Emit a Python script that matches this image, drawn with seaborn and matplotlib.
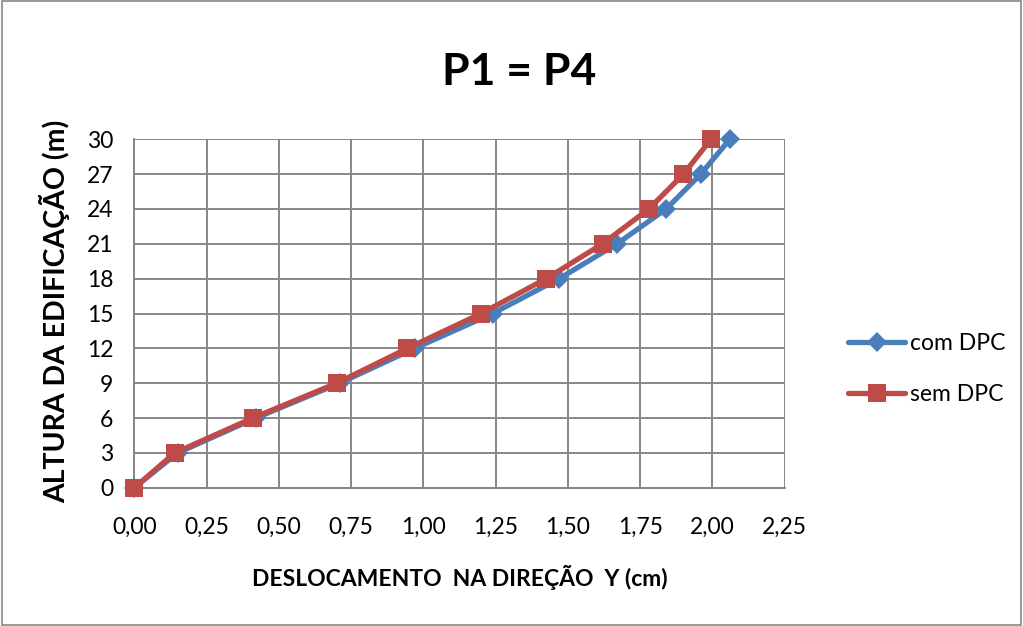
import matplotlib
matplotlib.use("Agg")
import matplotlib.pyplot as plt
from matplotlib.ticker import FuncFormatter
import seaborn as sns
import pandas as pd

# Storey heights (m) and lateral displacement in Y (cm)
altura = [0, 3, 6, 9, 12, 15, 18, 21, 24, 27, 30]
com_dpc = [0.00, 0.15, 0.42, 0.71, 0.97, 1.24, 1.47, 1.67, 1.84, 1.96, 2.06]
sem_dpc = [0.00, 0.14, 0.41, 0.70, 0.945, 1.20, 1.425, 1.62, 1.78, 1.90, 1.995]

series_names = ["com DPC", "sem DPC"]
series_colors = {"com DPC": "#4A7EBB", "sem DPC": "#BE4B48"}
series_markers = {"com DPC": "D", "sem DPC": "s"}
series_msize = {"com DPC": 9.8, "sem DPC": 13.5}

x_ticks = [0.00, 0.25, 0.50, 0.75, 1.00, 1.25, 1.50, 1.75, 2.00, 2.25]
y_ticks = [0, 3, 6, 9, 12, 15, 18, 21, 24, 27, 30]

df = pd.DataFrame({
    "altura": altura * 2,
    "desloc": com_dpc + sem_dpc,
    "serie": ["com DPC"] * len(altura) + ["sem DPC"] * len(altura),
})

sns.set_theme(style="white")
plt.rcParams["font.family"] = ["Lato", "DejaVu Sans"]
plt.rcParams["text.color"] = "black"
plt.rcParams["axes.labelcolor"] = "black"

fig = plt.figure(figsize=(10.23, 6.26), dpi=100)
ax = fig.add_axes([0.1313, 0.2209, 0.767 - 0.1313, 0.7775 - 0.2209])

for name in series_names:
    sub = df[df["serie"] == name]
    sns.lineplot(data=sub, x="desloc", y="altura", ax=ax, sort=False,
                 estimator=None, color=series_colors[name],
                 marker=series_markers[name],
                 markersize=series_msize[name],
                 markeredgewidth=0, linewidth=3.8, label=name, zorder=3,
                 clip_on=False)

ax.set_xlim(0, 2.25)
ax.set_ylim(0, 30)
ax.set_xticks(x_ticks)
ax.set_yticks(y_ticks)
ax.xaxis.set_major_formatter(FuncFormatter(lambda v, p: f"{v:.2f}".replace(".", ",")))
ax.grid(True, color="#878787", linewidth=1.4)
ax.set_axisbelow(True)
for side in ["top", "right"]:
    ax.spines[side].set_visible(False)
for side in ["left", "bottom"]:
    ax.spines[side].set_color("#878787")
    ax.spines[side].set_linewidth(1.4)
ax.tick_params(axis="both", direction="out", length=6, width=1.4,
               color="#878787", labelsize=16.5, labelcolor="black")
ax.tick_params(axis="x", pad=15)
ax.tick_params(axis="y", pad=9)
ax.patch.set_alpha(0)

ax.set_xlabel("DESLOCAMENTO  NA DIREÇÃO  Y (cm)", fontsize=16.5,
              fontweight="bold", va="center")
ax.xaxis.set_label_coords(0.5, -0.259)
ax.set_ylabel("ALTURA DA EDIFICAÇÃO (m)", fontsize=20.5,
              fontweight="bold", va="center")
ax.yaxis.set_label_coords(-0.122, 0.505)

fig.text(0.508, 0.885, "P1 = P4", ha="center", va="center",
         fontsize=32, fontweight="bold")

ax.legend(loc="center left", bbox_to_anchor=(0.829, 0.411),
          bbox_transform=fig.transFigure, frameon=False, fontsize=16.5,
          handlelength=2.5, handletextpad=0.2, labelspacing=1.3,
          borderpad=0, borderaxespad=0)

# outer chart border
fig.patches.append(plt.Rectangle((0.002, 0.002), 0.996, 0.996,
                                 transform=fig.transFigure, fill=False,
                                 edgecolor="#878787", linewidth=1.2))

fig.savefig("out.png", dpi=100)
